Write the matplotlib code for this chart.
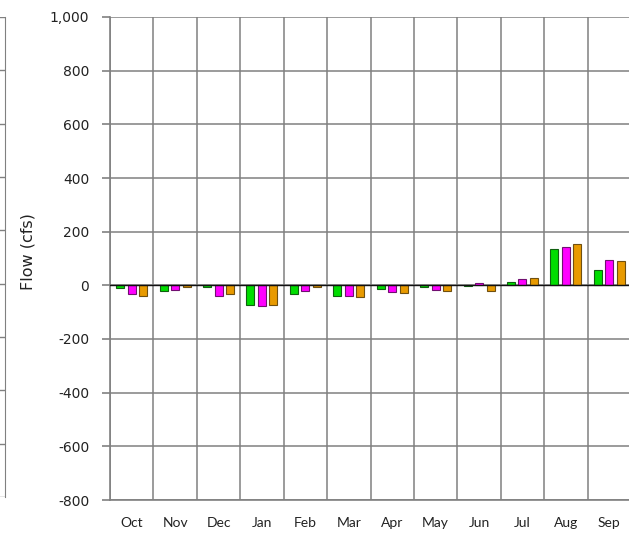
import numpy as np
import matplotlib
matplotlib.use('Agg')
import matplotlib.pyplot as plt

months = ['Oct', 'Nov', 'Dec', 'Jan', 'Feb', 'Mar', 'Apr', 'May', 'Jun', 'Jul', 'Aug', 'Sep']
series_a = [-10, -20, -8, -72, -33, -40, -15, -5, -3, 11, 136, 57]
series_b = [-33, -18, -40, -78, -22, -40, -23, -17, 10, 25, 142, 96]
series_c = [-38, -7, -33, -74, -5, -42, -30, -21, -22, 28, 154, 90]

colors = ['#00dd00', '#ff00ff', '#e89a00']
edges = ['#106010', '#701070', '#705010']
yticks = np.arange(-800, 1001, 200)

W, H = 629, 533
fig = plt.figure(figsize=(W / 100, H / 100), dpi=100)

# main axes
ax = fig.add_axes([110 / W, 1 - 500 / H, 521 / W, 483 / H])
x = np.arange(len(months))
off = 0.265
bw = 0.185
for k, vals in enumerate([series_a, series_b, series_c]):
    ax.bar(x + (k - 1) * off, vals, width=bw, color=colors[k],
           edgecolor=edges[k], linewidth=0.8, zorder=3)

ax.set_xlim(-0.5, 11.5)
ax.set_ylim(-800, 1000)
ax.set_yticks(yticks)
ax.set_yticklabels([f'{v:,}' for v in yticks], fontsize=10, color='#222222')
ax.set_xticks(x)
ax.set_xticklabels(months, fontfamily='Lato', fontsize=10, color='#222222')
ax.set_xticks(np.arange(-0.5, 12), minor=True)
ax.tick_params(axis='x', which='both', length=0, pad=12)
ax.tick_params(axis='y', length=6, width=1.2, color='#808080', pad=9)
ax.grid(axis='y', color='#808080', linewidth=1.1, zorder=1)
ax.grid(axis='x', which='minor', color='#808080', linewidth=1.1, zorder=1)
ax.axhline(0, color='#111111', linewidth=1.0, zorder=4)
for s in ['top', 'right']:
    ax.spines[s].set_visible(False)
for s in ['left', 'bottom']:
    ax.spines[s].set_color('#808080')
    ax.spines[s].set_linewidth(1.2)
ax.set_ylabel('Flow (cfs)', fontsize=11.5, color='#222222')
ax.yaxis.set_label_coords(-0.143, 0.515)

# sliver of the neighbouring chart at the left edge
ax0 = fig.add_axes([-0.5, 1 - 497 / H, 0.5 + 5 / W, 480 / H])
ax0.set_ylim(-800, 1000)
ax0.set_yticks(yticks)
ax0.tick_params(length=0, labelleft=False, labelbottom=False)
ax0.set_xticks([])
ax0.grid(axis='y', color='#808080', linewidth=1.0)
for s in ['top', 'left', 'bottom']:
    ax0.spines[s].set_visible(False)
ax0.spines['right'].set_color('#808080')

fig.savefig('out.png', dpi=100)
